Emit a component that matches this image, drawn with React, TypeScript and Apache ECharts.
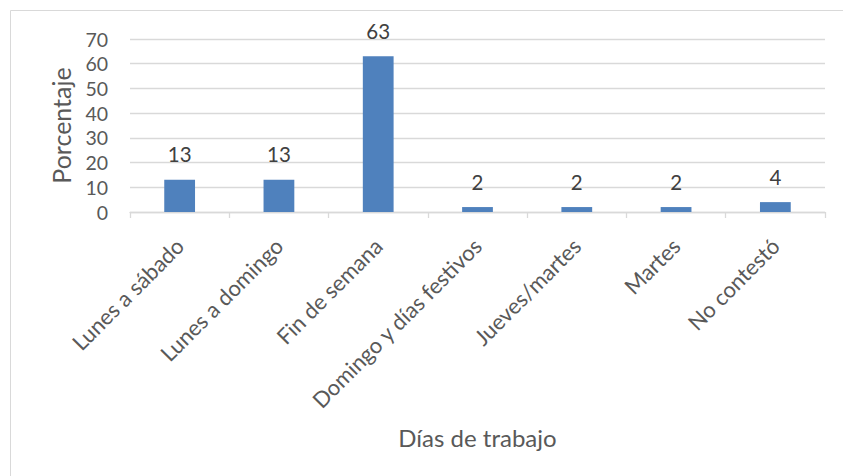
import React, { useEffect, useRef } from "react";
import * as echarts from "echarts";

const categories = [
  "Lunes a sábado",
  "Lunes a domingo",
  "Fin de semana",
  "Domingo y días festivos",
  "Jueves/martes",
  "Martes",
  "No contestó",
];
const values = [13, 13, 63, 2, 2, 2, 4];
const yAxisName = "Porcentaje";
const xAxisName = "Días de trabajo";

const FONT = "Lato";

export default function App() {
  const ref = useRef<HTMLDivElement>(null);
  useEffect(() => {
    if (!ref.current) return;
    const chart = echarts.init(ref.current, undefined, { renderer: "svg" });
    chart.setOption({
      animation: false,
      backgroundColor: "#ffffff",
      graphic: [
        {
          type: "rect",
          shape: { x: 10.5, y: 10.5, width: 850, height: 500 },
          style: { fill: "none", stroke: "#D9D9D9", lineWidth: 1 },
          silent: true,
        },
      ],
      grid: { left: 130, right: 18, top: 39, bottom: 264, containLabel: false },
      xAxis: {
        type: "category",
        data: categories,
        name: xAxisName,
        nameLocation: "middle",
        nameGap: 213,
        nameTextStyle: { fontFamily: FONT, fontSize: 24, color: "#595959" },
        axisLine: { lineStyle: { color: "#D9D9D9", width: 1.3 } },
        axisTick: { show: true, length: 6, alignWithLabel: false, lineStyle: { color: "#D9D9D9", width: 1.3 } },
        axisLabel: {
          rotate: 45,
          interval: 0,
          margin: 30,
          fontFamily: FONT,
          fontSize: 22,
          color: "#595959",
        },
        splitLine: { show: false },
      },
      yAxis: {
        type: "value",
        min: 0,
        max: 70,
        interval: 10,
        name: yAxisName,
        nameLocation: "middle",
        nameGap: 57,
        nameTextStyle: { fontFamily: FONT, fontSize: 25, color: "#595959" },
        axisLine: { show: false },
        axisTick: { show: false },
        axisLabel: { margin: 22, fontFamily: FONT, fontSize: 19.5, color: "#595959" },
        splitLine: { lineStyle: { color: "#D9D9D9", width: 1.3 } },
      },
      series: [
        {
          type: "bar",
          data: values,
          barWidth: "31%",
          itemStyle: { color: "#4F81BD" },
          label: {
            show: true,
            position: "top",
            distance: 15,
            fontFamily: FONT,
            fontSize: 20.5,
            color: "#404040",
          },
        },
      ],
    });
    return () => chart.dispose();
  }, []);
  return (
    <div
      ref={ref}
      style={{ position: "fixed", left: 0, top: 0, width: 843, height: 476 }}
    />
  );
}
